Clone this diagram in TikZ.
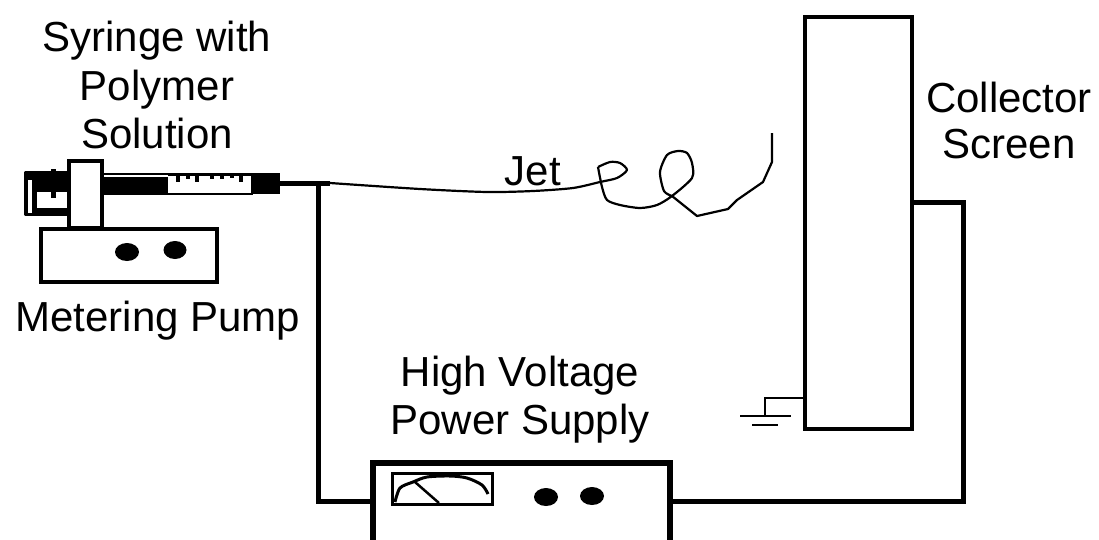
\documentclass[tikz,border=0pt]{standalone}
\usepackage{fontspec}
\setmainfont{Liberation Sans}
\begin{document}
\begin{tikzpicture}[x=1pt,y=-1pt,
  lab/.style={font=\fontsize{42}{48}\selectfont,align=center,text=black,inner sep=0pt},
  boxa/.style={draw=black,fill=white,line width=#1,inner sep=0pt,rectangle},
  wire/.style={draw=black,line width=5pt,miter limit=10},
  jetline/.style={line width=2.2pt,line join=round}]
\clip (0,0) rectangle (1099,539);
\fill[white] (0,0) rectangle (1099,539);
% labels
\node[lab,anchor=base] (syr1) at (157,51) {Syringe with};
\node[lab,anchor=base] (syr2) at (157,100) {Polymer};
\node[lab,anchor=base] (syr3) at (157,148) {Solution};
\node[lab,anchor=base] (jetl) at (533,185) {Jet};
\node[lab,anchor=base] (mp) at (158,331) {Metering Pump};
\node[lab,anchor=base] (hv1) at (520,386) {High Voltage};
\node[lab,anchor=base] (hv2) at (520,434) {Power Supply};
\node[lab,anchor=base] (cs1) at (1009,112) {Collector};
\node[lab,anchor=base] (cs2) at (1009,158) {Screen};
% named connection points
\coordinate (needle) at (330,183);
\coordinate (hubend) at (280,183);
\coordinate (wiretop) at (318,183);
\coordinate (wirebot) at (318,501);
\coordinate (psuL) at (373,501);
\coordinate (psuR) at (670,501);
\coordinate (cr) at (963,501);
\coordinate (crt) at (963,202);
\coordinate (collR) at (912,202);
\coordinate (gnd0) at (805,398);
\coordinate (gnd1) at (765,398);
\coordinate (gnd2) at (765,416);
\coordinate (g1l) at (740,416);
\coordinate (g1r) at (791,416);
\coordinate (g2l) at (752,425);
\coordinate (g2r) at (778,425);
% collector
\node[boxa=4pt,minimum width=107pt,minimum height=412pt] (coll) at (858.5,223) {};
% wires
\draw[wire] (needle) -- (hubend);
\draw[wire] (wiretop) -- (wirebot) -- (psuL);
\draw[wire] (psuR) -- (cr) -- (crt) -- (collR);
% ground
\draw[line width=2.5pt] (gnd0) -- (gnd1) -- (gnd2);
\draw[line width=2.5pt] (g1l) -- (g1r);
\draw[line width=2.5pt] (g2l) -- (g2r);
% power supply
\node[boxa=5.5pt,minimum width=297pt,minimum height=200pt] (psu) at (521.5,563) {};
\node[boxa=3pt,minimum width=100pt,minimum height=31pt] (meter) at (442,488.5) {};
\draw[line width=3pt,line join=round] plot[smooth,tension=.5] coordinates {(395,502) (400,488) (413,482) (427,477) (450,476) (467,478) (482,485) (488,494)};
\draw[line width=2.5pt] (415,482) -- (439,503);
\fill (546,497) ellipse (12 and 9);
\fill (592,496) ellipse (12 and 9);
% pump
\node[boxa=4pt,minimum width=176pt,minimum height=53pt] (pump) at (129,255.5) {};
\fill (127,252) ellipse (12 and 9);
\fill (175,250) ellipse (11.5 and 9);
% syringe plunger frame
\draw[line width=3.5pt,line join=round] (68,172.5) -- (26,172.5) -- (26,214.5) -- (68,214.5);
\draw[line width=5pt] (34.5,175) -- (34.5,210) -- (68,210);
\fill (28,174) rectangle (68,180);
\fill (37,177) rectangle (68,192);
\fill (51,169) rectangle (56,177);
\fill (51,192) rectangle (56,198);
% barrel
\draw[line width=2.5pt,fill=white] (100,174) rectangle (252,194);
\fill (100,177) rectangle (168,195);
\foreach \tx/\ty in {178/182,188/179,197/182,212/179,222/179,232/178,241/182} \fill (\tx-2,175) rectangle (\tx+2,\ty);
\fill (168,173) rectangle (252,176);
\fill (252,173) rectangle (280,194);
% clamp
\node[boxa=4pt,minimum width=33pt,minimum height=67pt] (clamp) at (85,194.5) {};
% jet
\draw[jetline] plot[smooth,tension=.45] coordinates {(needle) (420,189) (487,192) (533,191) (573,188) (600,182) (617,178) (627,170) (620,163) (610,162) (598,167)};
\draw[jetline] plot[smooth,tension=.45] coordinates {(598,167) (602,187) (607,200) (620,205) (640,208) (657,205) (672,196) (692,178) (692,163) (687,153) (678,151) (667,155) (660,172) (664,191) (672,196)};
\coordinate (jetend) at (772,133);
\draw[jetline] (672,196) -- (697,216) -- (728,209) -- (737,200) -- (763,182) -- (772,162) -- (jetend);
\end{tikzpicture}
\end{document}
